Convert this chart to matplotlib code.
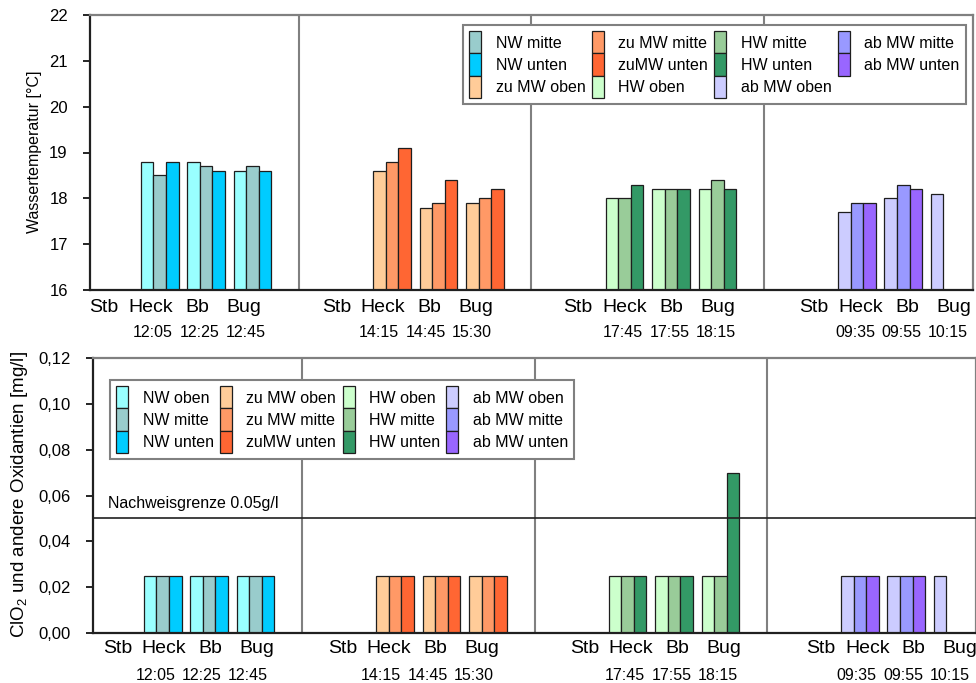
import numpy as np
import matplotlib
matplotlib.use("Agg")
import matplotlib.pyplot as plt
from matplotlib.patches import Patch

plt.rcParams['font.family'] = ['Liberation Sans', 'DejaVu Sans']
plt.rcParams['mathtext.fontset'] = 'custom'
plt.rcParams['mathtext.rm'] = 'Liberation Sans'
plt.rcParams['mathtext.it'] = 'Liberation Sans:italic'

###############################################
## Data
###############################################

nan = np.nan
sites = ['Stb', 'Heck', 'Bb', 'Bug']
times_nw = ['12:05', '12:25', '12:45']
times_zumw = ['14:15', '14:45', '15:30']
times_hw = ['17:45', '17:55', '18:15']
times_abmw = ['09:35', '09:55', '10:15']

series_labels = ['NW oben', 'NW mitte', 'NW unten',
                 'zu MW oben', 'zu MW mitte', 'zuMW unten',
                 'HW oben', 'HW mitte', 'HW unten',
                 'ab MW oben', 'ab MW mitte', 'ab MW unten']
series_colors = ['#99FFFF', '#99CCCC', '#00CCFF',
                 '#FFCC99', '#FF9966', '#FF6633',
                 '#CCFFCC', '#99CC99', '#339966',
                 '#CCCCFF', '#9999FF', '#9966FF']

# water temperature, rows = Stb/Heck/Bb/Bug, cols = oben/mitte/unten
temp_nw = [[nan, nan, nan], [18.8, 18.5, 18.8], [18.8, 18.7, 18.6], [18.6, 18.7, 18.6]]
temp_zumw = [[nan, nan, nan], [18.6, 18.8, 19.1], [17.8, 17.9, 18.4], [17.9, 18.0, 18.2]]
temp_hw = [[nan, nan, nan], [18.0, 18.0, 18.3], [18.2, 18.2, 18.2], [18.2, 18.4, 18.2]]
temp_abmw = [[nan, nan, nan], [17.7, 17.9, 17.9], [18.0, 18.3, 18.2], [18.1, nan, nan]]

# ClO2 and other oxidants [mg/l]
clo2_nw = [[nan, nan, nan], [0.025, 0.025, 0.025], [0.025, 0.025, 0.025], [0.025, 0.025, 0.025]]
clo2_zumw = [[nan, nan, nan], [0.025, 0.025, 0.025], [0.025, 0.025, 0.025], [0.025, 0.025, 0.025]]
clo2_hw = [[nan, nan, nan], [0.025, 0.025, 0.025], [0.025, 0.025, 0.025], [0.025, 0.025, 0.07]]
clo2_abmw = [[nan, nan, nan], [0.025, 0.025, 0.025], [0.025, 0.025, 0.025], [0.025, nan, nan]]

detection_limit = 0.05

times = [times_nw, times_zumw, times_hw, times_abmw]
temps = [temp_nw, temp_zumw, temp_hw, temp_abmw]
clo2 = [clo2_nw, clo2_zumw, clo2_hw, clo2_abmw]

###############################################
## Plotting helpers
###############################################

bar_w = 0.27
edge = '#1e1e1e'


def draw_panel(ax, data, site_shift, time_shift, site_y, time_y):
    for p, block in enumerate(data):
        block = np.array(block, dtype=float)
        base = p * 5
        for d in range(3):
            xs = base + np.arange(4) + (d - 1) * bar_w
            ax.bar(xs, block[:, d], width=bar_w, color=series_colors[p * 3 + d],
                   edgecolor=edge, linewidth=0.9, zorder=2)
        for s, name in enumerate(sites):
            ax.text(base + s + site_shift[p], site_y, name, transform=ax.get_xaxis_transform(),
                    ha='center', va='center', fontsize=14)
        for s, t in enumerate(times[p]):
            ax.text(base + s + 1 + time_shift[p], time_y, t, transform=ax.get_xaxis_transform(),
                    ha='center', va='center', fontsize=11.5)
    for xd in (4, 9, 14):
        ax.axvline(xd, color='#808080', lw=1.5, zorder=1)
    ax.set_xlim(-0.5, 18.5)
    ax.set_xticks([])
    for side in ('top', 'right'):
        ax.spines[side].set_color('#808080')
        ax.spines[side].set_linewidth(1.6)
    for side in ('left', 'bottom'):
        ax.spines[side].set_color('#202020')
        ax.spines[side].set_linewidth(1.6)
    ax.tick_params(axis='y', direction='out', length=5, width=1.2, pad=11, labelsize=12)


def add_legend(ax, labels, colors, anchor):
    handles = [Patch(facecolor=c, edgecolor=edge, linewidth=0.9) for c in colors]
    leg = ax.legend(handles, labels, ncol=4, loc='upper left', bbox_to_anchor=anchor,
                    bbox_transform=fig.transFigure, borderaxespad=0, fontsize=11.5,
                    handlelength=0.75, handleheight=1.75, handletextpad=0.9,
                    columnspacing=0.4, labelspacing=0, borderpad=0.4,
                    fancybox=False, framealpha=1)
    leg.get_frame().set_edgecolor('#808080')
    leg.get_frame().set_linewidth(1.5)
    leg.set_zorder(5)


W, H = 976, 683
fig = plt.figure(figsize=(W / 100, H / 100), dpi=100)

###############################################
## Top: water temperature
###############################################

ax1 = fig.add_axes([90 / W, 1 - 290 / H, 883 / W, 275 / H])
draw_panel(ax1, temps, [-0.2, -0.2, 0.0, 0.08], [-0.15, -0.28, -0.03, -0.04], -0.065, -0.156)
ax1.set_ylim(16, 22)
ax1.set_yticks(np.arange(16, 23, 1))
add_legend(ax1, series_labels[1:], series_colors[1:], (463 / W, 1 - 25 / H))
fig.text(35 / W, 1 - 152 / H, 'Wassertemperatur [°C]', rotation=90,
         ha='center', va='center', fontsize=11.5)

###############################################
## Bottom: ClO2 and other oxidants
###############################################

ax2 = fig.add_axes([93 / W, 1 - 633 / H, 883 / W, 275 / H])
draw_panel(ax2, clo2, [0.03, -0.13, 0.08, 0.16], [-0.16, -0.3, -0.05, -0.07], -0.055, -0.153)
ax2.set_ylim(0, 0.12)
yt = np.arange(0, 0.121, 0.02)
ax2.set_yticks(yt)
ax2.set_yticklabels(['{:.2f}'.format(v).replace('.', ',') for v in yt])
ax2.axhline(detection_limit, color='#202020', lw=1.2, zorder=3)
ax2.text(0.017, 0.0567, 'Nachweisgrenze 0.05g/l', transform=ax2.get_yaxis_transform(),
         ha='left', va='center', fontsize=11.5)
add_legend(ax2, series_labels, series_colors, (110 / W, 1 - 380 / H))
fig.text(20 / W, 1 - 495 / H, 'ClO$_2$ und andere Oxidantien [mg/l]', rotation=90,
         ha='center', va='center', fontsize=13.5)

fig.savefig('out.png', dpi=100)
